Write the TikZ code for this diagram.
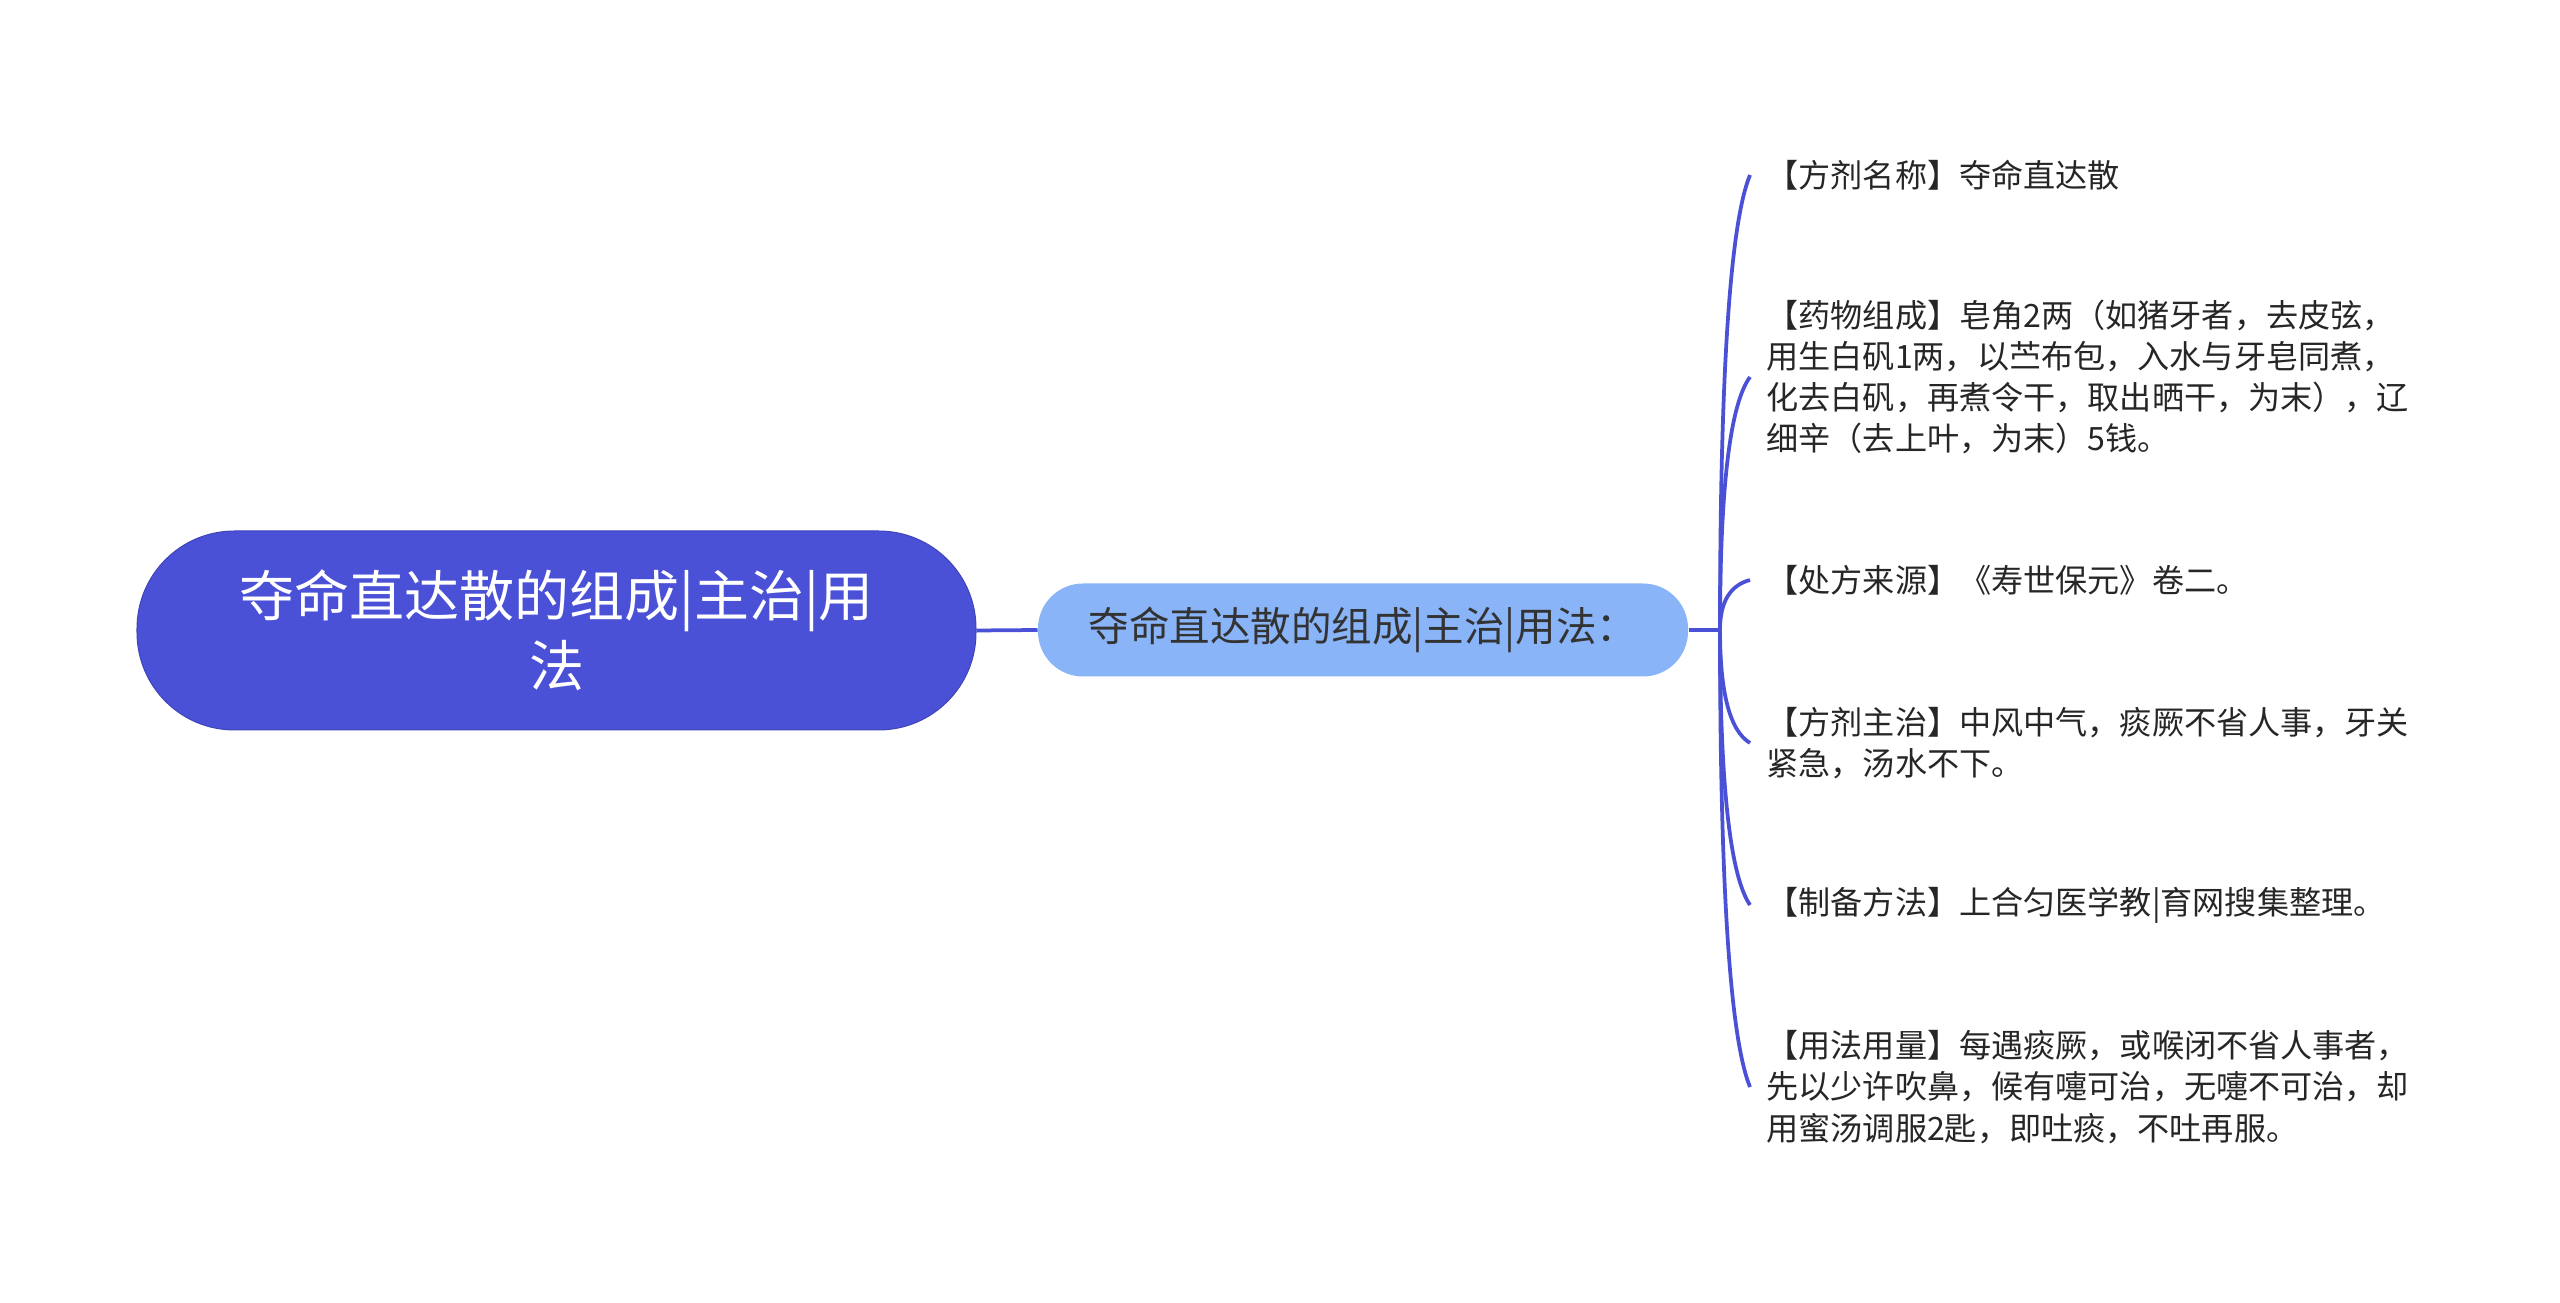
\documentclass[tikz,border=0pt]{standalone}
\usepackage{fontspec}
\setmainfont{Noto Sans CJK SC}
\usetikzlibrary{calc}
\usetikzlibrary{positioning}
\definecolor{rootblue}{HTML}{4A51D6}
\definecolor{subblue}{HTML}{8AB4F8}
\definecolor{linkblue}{HTML}{4A51D6}
\tikzstyle{rootnode}=[rectangle, rounded corners=39pt, fill=rootblue, draw=rootblue!85!black,
line width=0.4pt, text=white, align=center, minimum width=335.6pt, minimum height=79.6pt,
font=\fontsize{22}{28}\selectfont]
\tikzstyle{subnode}=[rectangle, rounded corners=18pt, fill=subblue, text=black!80,
minimum width=260pt, minimum height=37.2pt, font=\fontsize{16.2}{20}\selectfont]
\tikzstyle{leaf}=[anchor=west, align=left, inner sep=0pt, text=black!85,
font=\fontsize{12.85}{16.5}\selectfont]
\tikzstyle{branch}=[draw=linkblue, line width=1.5pt]

\begin{document}
\begin{tikzpicture}[x=0.4pt, y=-0.4pt]
\useasboundingbox (0,0) rectangle (2560,1303);
\node[rootnode] (root) at (556.5,630.5) {夺命直达散的组成|主治|用\\法};
\node[subnode] (sub) at (1363,630) {夺命直达散的组成|主治|用法：};
\coordinate (j) at (1720,630);

% leaves
\node[leaf] (l1) at (1766,175) {【方剂名称】夺命直达散};
\node[leaf] (l2) at (1766,377) {【药物组成】皂角2两（如猪牙者，去皮弦，\\用生白矾1两，以苎布包，入水与牙皂同煮，\\化去白矾，再煮令干，取出晒干，为末），辽\\细辛（去上叶，为末）5钱。};
\node[leaf] (l3) at (1766,580) {【处方来源】《寿世保元》卷二。};
\node[leaf] (l4) at (1766,743) {【方剂主治】中风中气，痰厥不省人事，牙关\\紧急，汤水不下。};
\node[leaf] (l5) at (1766,905) {【制备方法】上合匀医学教|育网搜集整理。};
\node[leaf] (l6) at (1766,1087) {【用法用量】每遇痰厥，或喉闭不省人事者，\\先以少许吹鼻，候有嚏可治，无嚏不可治，却\\用蜜汤调服2匙，即吐痰，不吐再服。};

\draw[branch] (root.east) -- (sub.west);
\draw[branch] (sub.east) -- (j);
\foreach \n in {l1,l2,l3,l4,l5,l6}{
  \coordinate (e) at ($(\n.west)+(-16,0)$);
  \coordinate (c) at ($(j)!0.84!(j |- e)$);
  \draw[branch] (j) .. controls ($(j)!0.667!(c)$) and ($(e)!0.667!(c)$) .. (e);
}
\end{tikzpicture}
\end{document}
